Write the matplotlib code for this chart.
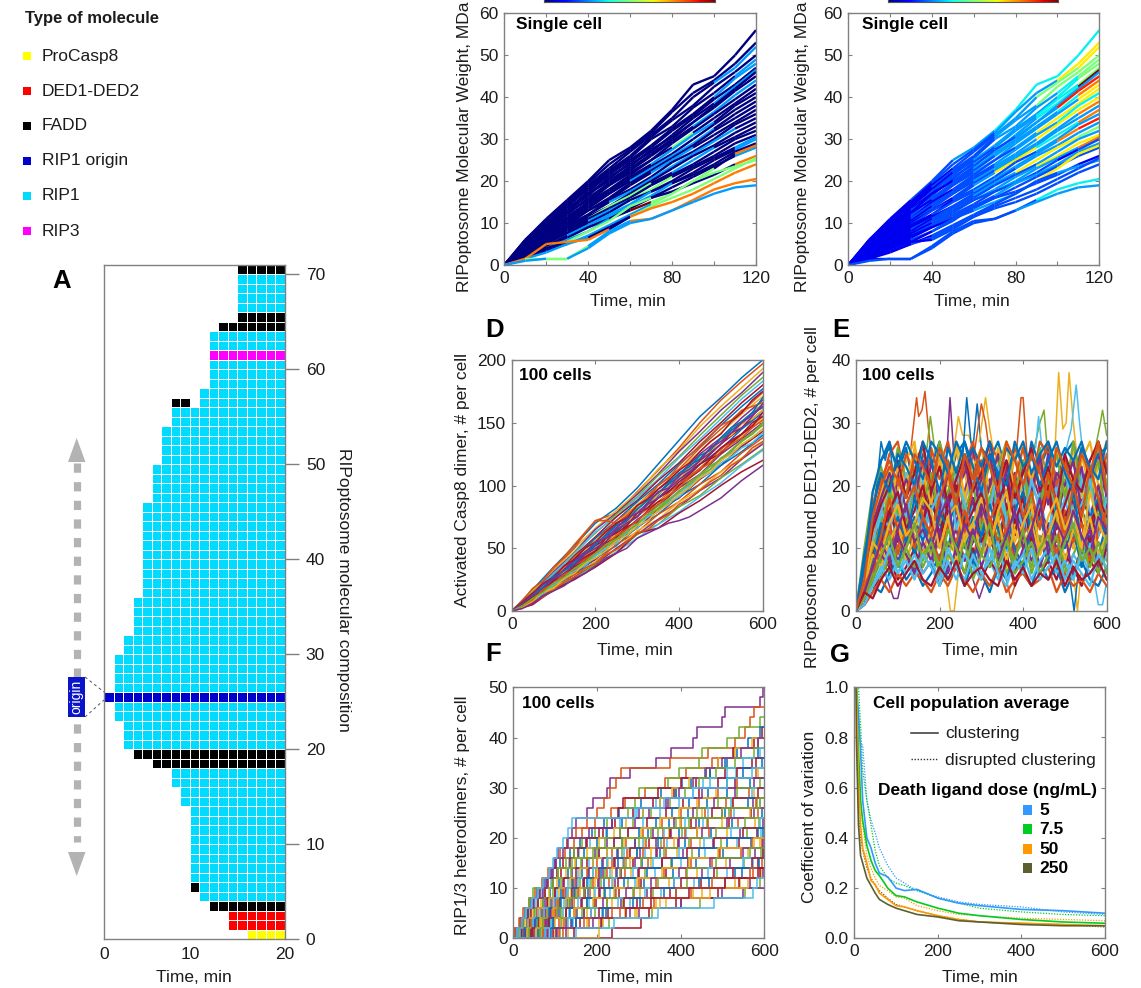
import numpy as np
import matplotlib
matplotlib.use("Agg")
import matplotlib.pyplot as plt
from matplotlib.collections import LineCollection
from matplotlib.colors import ListedColormap
from matplotlib.patches import Rectangle, Polygon

plt.rcParams['font.family'] = ['Liberation Sans', 'DejaVu Sans']

# ---------- Panel A data: first occupied column and molecule type per row ----------
MOLECULES = ['ProCasp8', 'DED1-DED2', 'FADD', 'RIP1 origin', 'RIP1', 'RIP3']
MOL_COLORS = ['#ffff00', '#ff0000', '#000000', '#0000cc', '#00dcff', '#ff00ff']
A_ROW_START = [15, 13, 13, 11, 10, 10, 9, 9, 9, 9, 9, 9, 9, 9, 8, 8, 7, 7, 5, 3, 2, 2, 2, 1, 1, 0,
               1, 1, 1, 1, 2, 2, 3, 3, 3, 3, 4, 4, 4, 4, 4, 4, 4, 4, 4, 4, 5, 5, 5, 5, 6, 6, 6, 6,
               7, 7, 10, 10, 11, 11, 11, 11, 11, 11, 12, 14, 14, 14, 14, 14, 14]
A_ROW_TYPE = [0, 1, 1, 2, 4, 4, 4, 4, 4, 4, 4, 4, 4, 4, 4, 4, 4, 4, 2, 2, 4, 4, 4, 4, 4, 3,
              4, 4, 4, 4, 4, 4, 4, 4, 4, 4, 4, 4, 4, 4, 4, 4, 4, 4, 4, 4, 4, 4, 4, 4, 4, 4, 4, 4,
              4, 4, 4, 4, 4, 4, 4, 5, 4, 4, 2, 2, 4, 4, 4, 4, 2]
A_EXTRA = [(5, 9, 2), (56, 7, 2), (56, 8, 2)]   # (row, column, type)

# ---------- Panels B / C: complex weight traces, sampled every 10 min ----------
BC_T = [0, 10, 20, 30, 40, 50, 60, 70, 80, 90, 100, 110, 120]
BC_Y = [
 [0,6,11,15.5,20,25,28,32,37,43,45,50,56],
 [0,6,10.5,15,19.5,24,27.5,31.5,36.5,41,44,48,53],
 [0,5.5,10,14.5,19,23,27,31,35,40,43.5,47,52],
 [0,5.5,10.5,14,18.5,22.5,26,30.5,34.5,38,42.5,46,50],
 [0,5,9.5,14,18,22,25.5,30,33,37.5,41,45,49],
 [0,5.5,9,13,17.5,21.5,25,28.5,32.5,36,40,44.5,48],
 [0,5,9,13.5,17,20.5,24.5,28,32,35.5,39.5,43,47],
 [0,4.5,9.5,13,16.5,21,24,27,31,35,38.5,42.5,46.5],
 [0,5,8.5,12.5,17,20,23.5,27.5,30.5,34,38,42,46],
 [0,4.5,8.5,12,16,19.5,23,26.5,30,34,37.5,41.5,45],
 [0,4,8,12.5,15.5,19,22.5,26,29.5,33,36.5,40.5,44],
 [0,4.5,8,11.5,15,19,22,25,29,32.5,36,39.5,43],
 [0,4,7.5,11,15,18,21.5,25,28,31.5,35,38.5,42],
 [0,4,8,11,14.5,17.5,21,24,27.5,31,34,38,41],
 [0,3.5,7,10.5,14,17,20.5,23.5,26.5,30,33.5,37,40],
 [0,3.5,7.5,10,13.5,17,20,23,26,29,32.5,36,39],
 [0,3,7,10,13,16,19.5,22.5,25.5,28.5,32,35,38],
 [0,3.5,6.5,9.5,13,15.5,19,22,25,28,31,34,37],
 [0,3,6,9.5,12,15.5,18,21,24.5,27,30,33.5,36],
 [0,3,6.5,9,12,15,17.5,20.5,23.5,26.5,29.5,32.5,35],
 [0,2.5,6,9,11.5,14,17,20,23,26,28.5,31.5,34],
 [0,3,5.5,8.5,11,14,16.5,19.5,22,25,28,30.5,33],
 [0,2.5,5,8,11,13.5,16,19,21.5,24,27,30,32],
 [0,2.5,5.5,7.5,10.5,13,15.5,18,21,23.5,26,29,31],
 [0,2,5,7.5,10,12.5,15.5,17.5,20,23,25.5,28,30.5],
 [0,2.5,4.5,7,9.5,12,14.5,17.5,19.5,22,25,27.5,30],
 [0,2,4.5,7,9,11.5,14,16.5,19.5,21.5,24,27,29],
 [0,2,4,6.5,9,11,13.5,16,18.5,21,23.5,26,28],
 [0,1.5,4,6,8,11,13,15,17,20,23,26.5,28.5],
 [0,2,4,5.5,8,10.5,14,16,17.5,19.5,21.5,24,26],
 [0,1.5,3.5,5,7,9.5,12,14.5,17,20,22,23.5,25],
 [0,1.5,3,5,6.5,9,11.5,14,16,18,20.5,23,25.5],
 [0,1.5,5,5.5,6,8.5,11.5,13.5,15,17,19.5,22,24],
 [0,1.5,1.5,1.5,4.5,8,10.5,11,13,15.5,18,19.5,20.5],
 [0,1,1.5,1.5,4,7.5,10,11,13,15,17,18.5,19],
]
# colour code of each 10-min segment (index into JET_LEVELS)
JET_LEVELS = [0.0, 0.1, 0.2, 0.28, 0.36, 0.5, 0.66, 0.78, 0.88, 1.0]
B_COLOR = [
 '000000000000','000000000000','000000000033','000000000000','000000000003','000000000033',
 '000000000000','000000000033','000000000000','000000000000','000000000333','000000000000',
 '000000005000','000000033300','000000000000','000000333300','000000000000','000000033000',
 '000000000000','000003333330','000000000000','000055503300','000000000000','000033550000',
 '000000000003','003333300003','000333330000','000000000003','003330955507','000555500007',
 '000333355555','033300555555','077770777777','755533777777','335333333333',
]
C_COLOR = [
 '111223344444','111122233366','111112233556','111122233555','111112233345','111222333345',
 '111112233445','111222333449','111112223333','111222333388','111122233347','111222333336',
 '111112223666','111222233344','111122233666','111222333337','111112233333','111222366447',
 '111112222333','111122333378','111112223333','111222336665','111122222333','111222333666',
 '111122233337','111222222212','111122233333','111112222222','111222333666','111122222221',
 '111122222233','111222222222','111122222222','111222222444','222222223333',
]

# ---------- Panel D: activated Casp8 ----------
D_T = [0, 50, 100, 150, 200, 250, 300, 350, 400, 450, 500, 550, 600]
D_Y = [
 [0,17,35,52,70,82,98,117,136,155,170,186,200],
 [0,15,33,53,72,78,95,112,130,150,168,183,197],
 [0,16,32,50,66,80,94,113,128,147,163,178,193],
 [0,14,31,47,65,78,93,109,127,143,160,174,190],
 [0,15,29,47,62,77,91,108,123,140,156,172,186],
 [0,13,30,45,63,75,90,105,122,137,153,169,183],
 [0,14,27,44,59,75,88,104,118,135,150,166,180],
 [0,12,28,42,58,72,87,101,117,131,148,163,177],
 [0,13,26,43,56,72,84,100,113,130,145,159,174],
 [0,12,27,40,56,69,85,97,112,127,142,157,171],
 [0,11,25,41,53,69,81,97,109,125,138,154,168],
 [0,13,24,38,54,66,82,94,108,122,137,151,165],
 [0,10,26,38,50,67,78,93,105,120,133,150,163],
 [0,12,23,37,52,63,79,90,105,117,133,146,160],
 [0,9,24,36,48,64,75,90,101,117,129,145,158],
 [0,11,22,34,49,61,76,87,101,114,129,141,155],
 [0,10,21,35,46,61,72,87,98,113,125,140,153],
 [0,8,23,32,47,58,73,84,98,109,125,137,150],
 [0,10,20,33,44,58,69,84,94,109,121,136,148],
 [0,9,21,30,44,55,70,81,94,106,120,132,145],
 [0,7,19,31,41,56,66,81,90,105,116,131,143],
 [0,9,19,29,42,52,67,77,91,101,116,127,140],
 [0,8,18,29,39,53,63,77,87,101,111,126,138],
 [0,7,19,27,39,49,64,73,87,97,111,122,134],
 [0,8,17,27,37,50,61,73,83,96,106,121,133],
 [0,6,17,26,37,47,61,69,83,92,106,117,129],
 [0,7,16,26,35,47,58,69,79,91,102,116,128],
 [0,5,17,25,35,46,62,66,78,88,100,111,120],
]
D_T_FINE = list(range(0, 601, 25))
D_Y_FINE = [
 [0,8,18,24,35,42,50,62,72,72,70,76,84,90,100,106,116,124,132,140,148,152,160,163,166],
 [0,5,11,19,26,31,40,44,53,60,64,73,78,86,92,101,107,116,121,130,136,144,150,158,162],
 [0,4,12,16,23,31,35,44,49,57,66,70,79,84,93,99,105,115,119,127,136,140,149,153,160],
 [0,6,10,18,24,28,37,43,48,58,62,68,78,82,90,95,103,109,117,122,130,136,141,150,155],
 [0,3,9,15,20,27,33,38,45,49,58,63,70,75,82,89,95,103,108,116,120,128,135,141,148],
 [0,5,13,17,25,30,36,45,50,55,65,70,75,85,90,97,105,110,120,126,133,142,146,155,165],
 [0,4,8,14,21,25,32,36,44,50,54,62,66,75,79,87,91,99,106,110,118,123,130,134,142],
 [0,7,14,22,27,36,41,50,55,63,70,74,84,89,97,104,112,118,127,135,141,151,158,168,175],
 [0,2,7,11,17,23,27,34,38,45,49,55,62,65,72,77,85,90,96,103,108,116,121,130,135],
 [0,6,12,19,27,32,38,47,53,60,68,72,81,88,94,102,110,115,124,128,138,146,151,158,170],
 [0,3,8,15,18,26,30,38,42,48,56,60,68,72,80,85,93,98,106,111,120,125,133,138,145],
 [0,5,11,16,24,28,35,41,47,54,59,67,71,80,87,91,100,106,112,121,126,134,141,147,158],
 [0,4,9,17,22,29,33,41,46,52,60,65,72,79,85,92,98,107,113,118,127,133,138,146,152],
 [0,6,13,21,26,33,40,46,55,58,66,74,78,86,95,98,108,113,120,130,135,142,150,156,163],
 [0,4,10,15,22,27,34,39,46,53,57,63,69,77,81,88,96,101,108,113,122,127,136,141,150],
 [0,2,6,12,16,20,26,30,36,42,46,50,58,62,66,70,72,75,80,85,90,97,104,110,116],
]
D_FINE_IDX = [1,0,2,6,4,3,5,6,1,0,2,6,1,3,4,3]

# ---------- Panel E: bound DED1-DED2, sampled every 20 min ----------
E_T = [0,20,40,60,80,100,120,140,160,180,200,220,240,260,280,300,320,340,360,380,400,420,440,460,480,500,520,540,560,580,600]
E_Y = [
 [0,7,16,24,27,22,26,19,25,23,27,20,25,27,21,26,24,27,22,25,19,27,23,26,21,25,27,20,24,26,22],
 [0,5,13,20,25,27,20,24,26,18,23,27,21,19,25,22,27,24,18,26,23,20,27,25,19,24,21,26,23,18,25],
 [0,9,18,15,22,19,24,27,17,21,25,18,27,22,16,24,19,26,21,17,27,20,23,18,25,22,16,24,27,20,21],
 [0,3,12,17,14,21,18,23,16,20,24,15,19,22,26,17,21,15,23,20,16,22,18,25,15,20,24,17,21,16,23],
 [0,6,10,18,21,15,19,23,14,20,16,22,18,13,21,17,24,15,19,22,14,20,17,23,16,21,13,19,22,15,18],
 [0,4,8,15,12,19,14,17,21,13,18,15,20,12,17,22,14,19,13,16,21,15,18,12,20,14,17,22,13,19,16],
 [0,2,9,13,17,11,16,13,18,15,12,19,14,17,11,16,20,13,15,18,12,17,14,19,11,16,13,18,15,12,17],
 [0,5,7,12,15,18,12,15,11,17,14,10,16,13,18,12,15,11,17,13,16,10,15,12,18,14,11,16,13,17,11],
 [0,3,10,8,13,10,15,12,9,14,11,16,10,13,8,15,11,14,17,10,12,15,9,13,11,16,10,14,8,12,15],
 [0,1,6,11,9,14,10,13,16,9,12,8,14,11,15,9,13,10,7,14,11,9,15,12,8,13,10,16,11,9,13],
 [0,4,7,9,12,8,11,14,9,7,12,10,13,8,11,14,7,10,13,9,12,8,11,14,10,7,12,9,13,8,10],
 [0,2,5,8,6,10,8,12,7,10,6,11,9,12,7,10,8,13,6,9,11,7,12,8,10,6,9,12,7,11,8],
 [0,3,4,7,9,6,9,7,11,8,5,10,7,9,6,11,8,5,10,7,9,12,6,8,10,5,9,7,11,6,9],
 [0,1,3,6,8,5,7,10,6,8,4,7,9,6,10,5,8,6,9,4,7,10,6,8,5,9,7,4,8,6,10],
 [0,2,4,3,6,8,5,7,4,6,9,5,7,4,8,6,3,7,5,9,6,4,8,5,7,3,6,8,5,4,7],
 [0,1,3,5,3,6,4,6,5,3,6,4,7,5,3,6,4,7,3,5,6,4,5,7,3,6,4,5,3,6,4],
 [0,8,14,19,23,17,21,25,18,22,16,24,20,17,23,26,19,22,16,25,18,21,24,17,22,19,26,18,23,17,24],
 [0,6,15,11,18,22,16,20,13,24,17,21,14,19,23,15,20,25,16,22,14,19,24,17,21,13,18,23,15,20,14],
 [0,10,19,23,18,26,21,17,24,19,27,22,18,25,20,24,16,23,27,19,24,17,26,21,25,18,27,19,22,26,20],
 [0,4,11,16,20,14,22,17,12,19,15,23,13,18,21,12,17,22,13,20,16,11,19,23,14,18,12,21,16,13,19],
 [0,7,14,10,16,12,17,10,14,19,12,16,9,15,18,11,14,9,17,12,19,10,16,13,9,15,18,11,14,17,12],
 [0,3,8,13,10,7,13,9,15,11,8,13,10,16,8,12,15,9,13,10,7,14,11,8,15,10,13,7,12,9,14],
 [0,8,17,21,24,20,25,22,18,26,21,24,19,23,27,20,25,18,24,21,26,19,23,27,20,24,18,25,21,27,23],
 [0,6,12,19,16,23,20,26,22,17,24,20,26,18,23,20,25,21,27,18,24,21,25,19,26,22,20,25,19,23,27],
 [0,5,14,18,22,17,21,18,24,20,16,22,19,24,17,21,25,18,22,16,23,19,25,17,22,20,24,16,21,25,18],
 [0,4,10,14,19,16,13,20,17,22,14,19,23,16,20,13,18,22,15,19,24,13,17,21,14,23,18,15,20,24,14],
 [0,7,11,16,13,18,15,21,12,16,19,14,22,17,13,20,16,23,14,18,13,21,16,12,19,23,15,17,21,12,18],
 [0,3,9,12,16,19,13,16,20,14,11,17,20,13,16,19,12,17,21,14,18,11,16,20,13,17,21,14,11,18,15],
 [0,5,8,14,10,15,11,18,14,10,16,13,18,10,15,12,17,13,10,16,19,12,15,10,17,13,19,11,15,18,10],
 [0,2,6,10,14,9,13,10,15,12,8,14,11,16,12,9,15,11,13,8,14,17,10,13,9,15,11,14,8,13,16],
 [0,4,9,7,11,14,8,12,9,13,10,15,8,12,14,9,11,15,8,13,10,14,9,12,16,8,13,10,15,9,12],
 [0,1,5,9,7,12,9,6,11,8,13,6,10,8,13,7,11,9,12,6,10,13,7,11,8,12,6,10,13,7,11],
 [0,3,6,5,9,7,10,7,9,11,6,9,7,11,5,9,7,10,12,6,8,11,6,9,12,7,5,10,7,11,6],
 [0,2,4,7,5,8,6,9,6,8,5,10,7,5,9,6,8,11,5,7,9,5,8,10,6,8,5,9,6,8,5],
 [0,6,13,17,20,24,18,22,27,19,23,17,21,25,19,22,27,20,24,18,22,26,19,23,17,25,21,19,24,27,22],
 [0,9,16,22,19,25,23,20,27,24,19,26,22,27,23,19,25,22,20,27,23,25,20,24,27,22,19,26,23,21,27],
 [0,4,7,12,18,13,17,20,15,12,18,22,16,13,20,24,14,18,12,21,15,19,13,22,17,12,20,15,23,18,13],
 [0,5,11,9,14,17,12,14,18,16,10,15,17,11,14,18,10,16,19,11,14,17,10,15,18,13,16,10,19,14,11],
 [0,3,7,11,8,13,17,11,13,10,15,18,9,14,11,17,13,8,12,16,10,13,18,9,14,11,16,12,9,15,13],
 [0,2,5,9,12,7,10,14,8,11,7,13,10,6,12,9,14,7,11,8,13,6,10,12,7,11,14,8,10,6,12],
 [0,1,4,6,10,6,8,5,9,7,4,8,5,9,7,5,10,6,4,8,6,10,5,7,9,5,8,6,4,9,7],
 [0,3,2,5,7,4,6,8,5,4,7,5,8,4,6,7,5,4,8,5,7,4,6,5,8,4,7,5,6,8,5],
 [0,7,19,24,26,23,27,24,21,27,25,22,27,24,26,23,27,21,26,24,27,22,25,27,23,26,24,27,22,25,26],
 [0,5,15,20,23,21,18,25,23,20,26,23,17,25,21,26,23,19,27,24,20,25,22,18,26,23,20,25,22,27,19],
]
# individual excursions outside the dense band: (colour index, times, values)
E_PEAKS = [
 (0, [50,60,70,80,95], [20,27,24,27,18]),
 (1, [130,145,150,158,165,172,185], [25,34,31,32,35,30,22]),
 (4, [170,178,190], [26,31,25]),
 (3, [215,225,235], [22,34,24]),
 (2, [205,220,226,235,250], [10,3,0,0,9]),
 (2, [235,245,255,270,285], [26,31,28,28,25]),
 (0, [255,265,275,285], [24,34,27,24]),
 (0, [280,290,300], [26,33,26]),
 (2, [295,310,320,330], [27,34,29,25]),
 (1, [285,300,310,320], [26,33,30,25]),
 (1, [385,395,400,410], [26,34,34,24]),
 (4, [420,440,450,460], [24,30,32,24]),
 (5, [430,437,445], [26,31,26]),
 (2, [475,485,495,503,510,520,530], [24,38,29,30,38,30,24]),
 (5, [500,515,527,535,545], [25,29,36,30,24]),
 (2, [522,530,538], [5,0,6]),
 (0, [510,522,530], [6,0,5]),
 (4, [570,585,590,600], [25,30,32,28]),
 (5, [570,580,590,598], [5,1,1,4]),
 (3, [70,90,100,110], [6,2,2,5]),
 (1, [360,370,380], [5,2,4]),
 (3, [280,295,310], [5,2,5]),
]

# ---------- Panel F: times at which a cell gains one heterodimer pair ----------
F_JUMPS_MID = [
 [18,40,66,84,118,142,178,212,248,292,322,372,418,462,512,566],
 [26,42,78,104,122,168,198,236,272,318,358,402,458,508,564],
 [34,60,72,110,138,152,200,226,276,312,372,398,452,522,576],
 [22,58,90,106,148,166,214,242,302,340,378,436,498,572],
 [44,66,94,132,150,186,220,270,296,352,404,462,516,582],
 [16,52,82,122,158,182,232,262,316,368,412,454,528,590],
 [36,76,96,136,172,202,258,286,344,394,438,516,568],
 [30,62,112,128,178,218,248,308,350,410,472,522,594],
 [48,84,102,146,184,228,268,322,364,424,468,536,586],
 [24,68,118,142,192,238,282,328,392,446,512,578],
 [42,78,126,162,208,244,298,356,406,478,542,596],
 [58,88,114,176,216,274,314,376,428,496,558,588],
 [34,92,134,180,230,292,338,402,458,534,592],
 [64,98,144,198,252,306,366,418,492,540,582],
 [28,86,152,194,242,312,382,436,502,568,598],
 [74,122,168,224,288,342,412,476,544,594],
 [52,116,176,236,302,372,440,508,562,590],
 [84,138,186,258,320,384,450,518,578,596],
 [68,128,196,262,334,416,486,552,592],
 [88,142,212,278,352,432,512,574,598],
 [102,160,226,296,374,448,524,586,596],
 [76,140,222,304,388,468,546,588],
 [118,182,256,336,424,506,572,594],
 [98,176,268,364,452,542,592],
 [126,212,300,402,498,566,596],
 [112,228,332,446,554,590],
 [10,24,36,54,68,90,106,134,158,184,222,256,296,342,388,454,532],
 [6,20,34,46,64,82,104,120,146,174,214,244,286,334,384,436,506,570],
 [4,16,28,40,56,74,92,112,136,160,188,216,252,306,352,404,458,512,584],
 [2,14,24,38,52,68,86,102,124,144,164,196,234,268,316,362,414,476,528,586],
]
F_JUMPS = [
 [10,22,35,48,62,78,90,102,118,128,140,150,175,190,225,232,278,340,378,430,440,500,505,590,596],
 [6,18,30,44,58,70,84,98,112,128,150,175,200,218,230,245,258,375,465,530,555,565,575],
 [12,26,40,60,75,92,108,125,145,165,195,225,275,290,300,370,395,445,450,510,540,590],
 [8,24,42,58,76,95,115,135,155,175,205,235,250,262,345,400,470,490,525,575,595],
 [15,32,50,70,88,110,130,150,170,200,225,260,310,350,390,425,470,505,535,560,590],
 [10,28,46,66,86,104,126,148,176,205,240,270,310,350,380,420,460,490,530,570],
 [20,38,56,76,100,120,140,165,195,225,255,290,325,365,395,430,460,500,545,585],
 [14,34,52,72,95,115,138,162,190,220,255,285,330,375,410,445,485,530,575],
 [25,45,65,85,105,130,155,180,205,240,275,310,350,395,430,470,510,550,590],
 [18,36,58,80,100,122,150,175,205,240,275,320,365,405,445,490,535,580],
 [30,50,70,90,115,140,165,190,225,260,300,340,380,420,465,510,550,595],
 [22,44,68,92,118,145,175,200,235,270,310,355,400,445,490,535,580],
 [12,35,60,85,110,135,160,190,225,265,305,350,395,440,485,530,585],
 [28,52,76,100,125,150,180,215,250,290,335,385,430,480,530,575],
 [35,58,82,108,130,160,190,225,260,300,345,390,440,490,535,590],
 [16,48,74,98,128,155,190,225,265,310,360,410,465,520,570],
 [40,62,88,112,140,170,205,240,280,325,375,425,475,525,585],
 [25,55,85,115,145,175,210,250,295,345,395,445,505,560],
 [45,72,100,125,155,190,225,265,310,360,410,465,520,580],
 [32,65,95,125,160,195,235,280,330,385,440,500,565],
 [50,80,108,140,170,205,245,290,340,395,450,510,575],
 [38,70,105,135,170,210,255,305,360,420,485,555],
 [55,90,120,155,195,235,285,335,395,455,520,590],
 [45,85,125,165,205,250,300,355,415,480,550],
 [60,95,135,175,220,265,320,380,445,510,585],
 [70,110,150,195,245,300,360,425,495,570],
 [55,100,145,190,240,295,355,420,490,575],
 [80,125,170,215,270,330,395,470,550],
 [65,115,165,225,285,345,415,485,565],
 [75,130,185,250,315,385,465,550],
 [95,150,205,265,330,400,480,570],
 [90,150,215,285,360,445,530],
 [110,170,235,310,390,475,565],
 [130,205,290,340,430,530],
 [105,190,280,400,550],
 [235,305,325,390,490,540,585],
 [205,215,295,350,470,560],
 [145,210,270,330,420,505,590],
 [12,22,30,38,46,95,108,140,200,260,330,420,500,590],
 [8,20,35,50,70,80,95,100,108,130,180,235,300,370,450,530],
 [8,20,30,45,60,72,85,95,105,120,130,140,290,360,430,510,570],
 [150,240,345,480,572,582],
]
F_COLOR_IDX = [3,1,4,6,0,2,3,4,5,6,0,1,2,3,4,5,6,0,1,2,3,4,5,6,0,1,2,3,4,5,6,0,1,2,3,6,2,6,4,3,5,5]

# ---------- Panel G: coefficient of variation ----------
DOSES = ['5', '7.5', '50', '250']
DOSE_COLORS = ['#3399ff', '#00cc22', '#ff9900', '#5c6030']
G_T = [3,5,10,15,20,30,40,50,60,80,100,120,150,200,250,300,400,500,600]
G_SOLID = [
 [1.5,1.0,.90,.75,.55,.40,.36,.30,.26,.245,.20,.19,.195,.16,.14,.13,.115,.11,.10],
 [1.5,1.0,.75,.55,.47,.37,.31,.27,.25,.20,.17,.165,.145,.12,.10,.09,.075,.065,.06],
 [1.5,1.0,.62,.45,.36,.30,.23,.215,.18,.155,.13,.125,.11,.09,.075,.065,.06,.055,.05],
 [1.3,.80,.45,.33,.30,.24,.21,.18,.155,.135,.12,.11,.095,.085,.07,.065,.055,.05,.05],
]
G_DOTTED = [
 [1.5,1.0,.85,.77,.77,.55,.47,.42,.36,.29,.24,.22,.19,.165,.145,.135,.125,.105,.095],
 [1.5,1.2,1.0,.85,.67,.55,.45,.35,.29,.24,.22,.21,.19,.16,.14,.12,.105,.095,.09],
 [1.5,1.0,.70,.55,.45,.33,.28,.24,.21,.19,.165,.16,.13,.11,.095,.09,.08,.075,.07],
 [1.5,.9,.50,.40,.35,.28,.24,.21,.19,.16,.135,.125,.11,.09,.075,.065,.06,.055,.045],
]

# ---------- labels ----------
PANEL_LETTERS = ['A', 'D', 'E', 'F', 'G']
TIME_LABEL = 'Time, min'

MATLAB = ['#0072BD', '#D95319', '#EDB120', '#7E2F8E', '#77AC30', '#4DBEEE', '#A2142F']
GREY = '#808080'
INK = '#1c1c1c'
W, H = 1141, 988
fig = plt.figure(figsize=(W/100, H/100), dpi=100, facecolor='white')


def axpx(l, t, r, b):
    return fig.add_axes([l/W, 1-b/H, (r-l)/W, (b-t)/H])


def T(x, y, s, **kw):
    kw.setdefault('color', INK)
    kw.setdefault('fontsize', 12.5)
    kw.setdefault('va', 'center')
    fig.text(x/W, 1-y/H, s, **kw)


def style(ax, xlim, ylim, xt, yt, xl=None, yl=None):
    ax.set_xlim(*xlim)
    ax.set_ylim(*ylim)
    ax.set_xticks(xt)
    ax.set_yticks(yt)
    ax.set_xticklabels(xl if xl else [str(v) for v in xt])
    ax.set_yticklabels(yl if yl else [str(v) for v in yt])
    ax.tick_params(direction='in', length=3, width=0.8, color=GREY, top=True, right=True,
                   labelsize=12.5, labelcolor=INK, pad=4)
    for s in ax.spines.values():
        s.set_color(GREY)
        s.set_linewidth(1.0)


# ---------- Panel A ----------
axA = axpx(104.3, 264.7, 285, 939)
grid = np.full((71, 19), np.nan)
for row, (start, kind) in enumerate(zip(A_ROW_START, A_ROW_TYPE)):
    grid[row, start:] = kind
for row, col, kind in A_EXTRA:
    grid[row, col] = kind
axA.pcolormesh(np.arange(20), np.arange(72), np.ma.masked_invalid(grid),
               cmap=ListedColormap(MOL_COLORS), vmin=-0.5, vmax=5.5,
               edgecolors='white', linewidth=0.45)
axA.set_xlim(0, 19)
axA.set_ylim(0, 71)
axA.set_xticks([0, 9, 19])
axA.set_xticklabels(['0', '10', '20'])
axA.set_yticks(range(0, 71, 10))
axA.yaxis.tick_right()
axA.tick_params(axis='y', direction='out', length=10, width=1, color=GREY, labelsize=12.5,
                labelcolor=INK, pad=5)
axA.tick_params(axis='x', length=0, labelsize=12.5, labelcolor=INK, pad=6)
for s in axA.spines.values():
    s.set_color(GREY)
    s.set_linewidth(1.0)
T(194, 977, TIME_LABEL, ha='center')
T(343, 590, 'RIPoptosome molecular composition', rotation=270, ha='center')

# ---------- overlay: key, arrow, origin tag ----------
ov = fig.add_axes([0, 0, 1, 1], zorder=5)
ov.set_xlim(0, W)
ov.set_ylim(H, 0)
ov.axis('off')
T(25, 18, 'Type of molecule', fontweight='bold', fontsize=12)
for y, name, col in zip([56, 91, 126, 161, 196, 231], MOLECULES, MOL_COLORS):
    ov.add_patch(Rectangle((23, y-4), 8, 8, color=col, lw=0))
    T(42, y, name, fontsize=12.5)
ov.plot([76.7, 76.7], [463, 842], color='#b3b3b3', lw=5.2, dashes=(1.28, 1.3), solid_capstyle='butt')
ov.add_patch(Polygon([[76.7, 438], [68, 462], [85.5, 462]], color='#b3b3b3', lw=0))
ov.add_patch(Polygon([[76.7, 876], [68, 852], [85.5, 852]], color='#b3b3b3', lw=0))
ov.add_patch(Rectangle((68, 677), 17, 40, color='#0a14c8', lw=0, zorder=4))
ov.text(76.5, 697, 'origin', color='white', rotation=90, ha='center', va='center', fontsize=10, zorder=5)
ov.plot([85, 104], [677, 692], color='#555555', lw=0.7, ls=(0, (3, 3)))
ov.plot([85, 104], [717, 700], color='#555555', lw=0.7, ls=(0, (3, 3)))
for s, x, y in zip(PANEL_LETTERS, [52, 485, 832, 485, 830], [281, 330, 330, 654, 655]):
    T(x, y, s, fontweight='bold', fontsize=18.5, color='black')


# ---------- Panels B, C ----------
def traces(ax, codes):
    t = np.array(BC_T)
    cmap = plt.get_cmap('jet')
    for y, code in zip(BC_Y, codes):
        pts = np.column_stack([t, y])
        seg = np.stack([pts[:-1], pts[1:]], axis=1)
        ax.add_collection(LineCollection(seg, colors=[cmap(JET_LEVELS[int(c)]) for c in code],
                                         linewidths=1.7))


for (l, r, cl, cr, codes, tx, ylx) in [(504.3, 756, 544, 715, B_COLOR, 516, 464),
                                        (848.3, 1099.3, 888, 1058, C_COLOR, 862, 802)]:
    ax = axpx(l, 13.3, r, 265)
    traces(ax, codes)
    style(ax, (0, 120), (0, 60), list(range(0, 121, 20)), list(range(0, 61, 10)),
          xl=['0', '', '40', '', '80', '', '120'])
    T(tx, 24, 'Single cell', fontweight='bold', color='black')
    T((l+r)/2 - 2, 302, TIME_LABEL, ha='center')
    T(ylx, 147, 'RIPoptosome Molecular Weight, MDa', rotation=90, ha='center')
    cb = axpx(cl, -3, cr, 2)
    cb.imshow(np.linspace(0, 1, 256)[None, :], cmap='jet', aspect='auto')
    cb.set_xticks([])
    cb.set_yticks([])
    for s in cb.spines.values():
        s.set_color('#555555')

# ---------- Panel D ----------
axD = axpx(511.7, 360, 762.7, 611)
for i, y in enumerate(D_Y):
    axD.plot(D_T, y, color=MATLAB[i % 7], lw=1.1)
for y, c in zip(D_Y_FINE, D_FINE_IDX):
    axD.plot(D_T_FINE, y, color=MATLAB[c], lw=1.1)
style(axD, (0, 600), (0, 200), [0, 200, 400, 600], [0, 50, 100, 150, 200])
T(519, 375, '100 cells', fontweight='bold', color='black')
T(635, 650, TIME_LABEL, ha='center')
T(463, 480, 'Activated Casp8 dimer, # per cell', rotation=90, ha='center')

# ---------- Panel E ----------
axE = axpx(856, 360, 1106.7, 611)
for c, tt, vv in E_PEAKS:
    axE.plot(tt, vv, color=MATLAB[c], lw=1.1)
for i, y in enumerate(E_Y):
    axE.plot(E_T, y, color=MATLAB[i % 7], lw=1.6)
style(axE, (0, 600), (0, 40), [0, 200, 400, 600], [0, 10, 20, 30, 40])
T(862, 375, '100 cells', fontweight='bold', color='black')
T(980, 650, TIME_LABEL, ha='center')
T(812, 497, 'RIPoptosome bound DED1-DED2, # per cell', rotation=90, ha='center')

# ---------- Panel F ----------
axF = axpx(513.3, 687.3, 764.3, 938.3)
for i, jumps in enumerate(F_JUMPS_MID):
    xs = [0] + jumps + [600]
    ys = [0] + [2*(k+1) for k in range(len(jumps))] + [2*len(jumps)]
    axF.step(xs, ys, where='post', color=MATLAB[i % 7], lw=1.1)
for jumps, c in zip(F_JUMPS, F_COLOR_IDX):
    xs = [0] + jumps + [600]
    ys = [0] + [2*(k+1) for k in range(len(jumps))] + [2*len(jumps)]
    axF.step(xs, ys, where='post', color=MATLAB[c], lw=1.1)
style(axF, (0, 600), (0, 50), [0, 200, 400, 600], [0, 10, 20, 30, 40, 50])
T(522, 703, '100 cells', fontweight='bold', color='black')
T(635, 977, TIME_LABEL, ha='center')
T(463, 815, 'RIP1/3 heterodimers, # per cell', rotation=90, ha='center')

# ---------- Panel G ----------
axG = axpx(854.3, 687.3, 1105, 938.3)
for y, c in zip(G_DOTTED, DOSE_COLORS):
    axG.plot(G_T, y, color=c, lw=0.9, ls=(0, (1, 1.2)))
for y, c in zip(G_SOLID, DOSE_COLORS):
    axG.plot(G_T, y, color=c, lw=1.2)
style(axG, (0, 600), (0, 1), [0, 200, 400, 600], [0, .2, .4, .6, .8, 1.0],
      yl=['0.0', '0.2', '0.4', '0.6', '0.8', '1.0'])
T(873, 703, 'Cell population average', fontweight='bold', color='black')
ov.plot([911, 938], [733, 733], color='#333333', lw=1.1)
ov.plot([911, 938], [759, 759], color='#333333', lw=1.0, ls=(0, (1, 1.2)))
T(945, 733, 'clustering')
T(945, 760, 'disrupted clustering')
T(878, 790, 'Death ligand dose (ng/mL)', fontweight='bold', color='black')
for y, d, c in zip([810, 829, 849, 868], DOSES, DOSE_COLORS):
    ov.add_patch(Rectangle((1023, y-5), 9, 9.5, color=c, lw=0))
    T(1039, y, d, fontweight='bold', color='black', fontsize=12.5)
T(980, 977, TIME_LABEL, ha='center')
T(809, 817, 'Coefficient of variation', rotation=90, ha='center')

fig.savefig('out.png', dpi=100)
